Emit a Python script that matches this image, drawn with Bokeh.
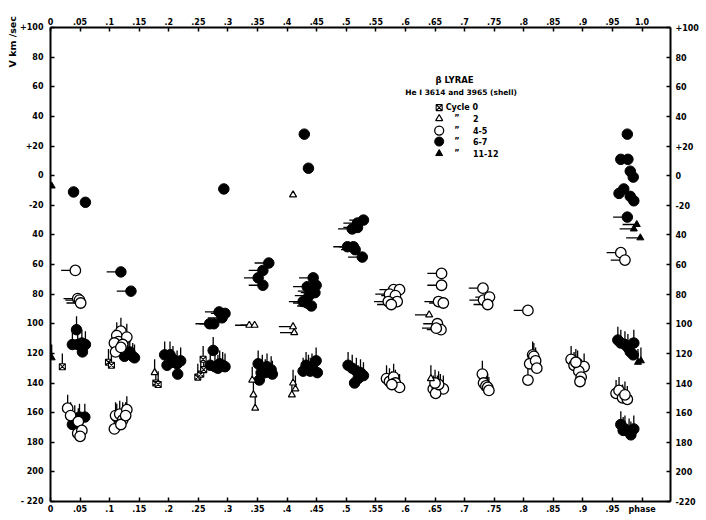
import math
from bokeh.plotting import figure
from bokeh.models import Range1d, LinearAxis, FixedTicker, Label, ColumnDataSource, Title
from bokeh.embed import file_html
from bokeh.resources import INLINE

# ---------------- data (phase, radial velocity km/s, tail direction) ----------------
# Cycle 0 (boxed x)
c0_phase = [0.020, 0.098, 0.103, 0.178, 0.182, 0.249, 0.254, 0.259, 0.258]
c0_vel = [-129, -126, -128, -140, -141, -136, -134, -131, -124]
c0_tail = ["v", "v", "v", "v", "v", "v", "v", "v", "v"]

# Cycle 2 (open triangles)
c2_phase = [0.176, 0.336, 0.345, 0.341, 0.343, 0.346, 0.410, 0.410, 0.412, 0.410, 0.414, 0.408, 0.640, 0.643]
c2_vel = [-133, -101, -101, -138, -148, -157, -13, -102, -106, -140, -144, -148, -94, -137]
c2_tail = ["v", "h", "h", "v", "v", "v", "", "h", "h", "v", "v", "v", "h", "v"]

# Cycles 4-5 (open circles)
c45_phase = [0.042, 0.046, 0.049, 0.051,
             0.029, 0.034, 0.047, 0.046, 0.053, 0.050,
             0.119, 0.112, 0.115, 0.129, 0.108, 0.122, 0.110, 0.119,
             0.108, 0.110, 0.117, 0.129, 0.122, 0.119, 0.127,
             0.580, 0.590, 0.573, 0.583, 0.586, 0.571, 0.576,
             0.568, 0.573, 0.580, 0.583, 0.590, 0.577,
             0.661, 0.661, 0.656, 0.664, 0.654, 0.660, 0.652,
             0.647, 0.654, 0.659, 0.664, 0.651, 0.656, 0.650,
             0.731, 0.732, 0.742, 0.739,
             0.730, 0.732, 0.736, 0.739, 0.741,
             0.807,
             0.815, 0.817, 0.810, 0.820, 0.822, 0.807,
             0.880, 0.885, 0.891, 0.902, 0.893, 0.897, 0.895, 0.888,
             0.964, 0.971,
             0.956, 0.961, 0.967, 0.975, 0.971]
c45_vel = [-64, -83, -84, -86,
           -157, -162, -166, -174, -172, -176,
           -105, -108, -112, -109, -113, -114, -119, -116,
           -171, -162, -161, -158, -165, -168, -162,
           -77, -77, -80, -81, -85, -85, -87,
           -137, -139, -136, -140, -143, -141,
           -66, -74, -85, -86, -100, -104, -103,
           -144, -144, -143, -144, -147, -141, -140,
           -76, -84, -82, -87,
           -134, -140, -142, -143, -145,
           -91,
           -121, -122, -127, -125, -130, -138,
           -124, -128, -127, -129, -132, -136, -139, -126,
           -52, -57,
           -147, -145, -150, -151, -148]
c45_tail = ["h", "h", "h", "h",
            "v", "v", "v", "v", "v", "v",
            "v", "v", "v", "v", "v", "v", "v", "v",
            "v", "v", "v", "v", "v", "v", "v",
            "h", "h", "h", "h", "h", "h", "h",
            "v", "v", "v", "v", "v", "v",
            "h", "h", "h", "h", "h", "h", "h",
            "v", "v", "v", "v", "v", "v", "v",
            "h", "h", "h", "h",
            "v", "v", "v", "v", "v",
            "h",
            "v", "v", "v", "v", "v", "v",
            "v", "v", "v", "v", "v", "v", "v", "v",
            "h", "h",
            "v", "v", "v", "v", "v"]

# Cycles 6-7 (filled circles)
c67_phase = [0.039, 0.059,
             0.044, 0.037, 0.046, 0.053, 0.054, 0.059,
             0.037, 0.044, 0.049, 0.058, 0.041,
             0.119, 0.136,
             0.131, 0.139, 0.142, 0.125, 0.134,
             0.112, 0.122,
             0.193, 0.202, 0.197, 0.207, 0.214, 0.220, 0.215, 0.205,
             0.269, 0.276, 0.285, 0.295, 0.290,
             0.275, 0.270, 0.278, 0.283, 0.291, 0.295, 0.286,
             0.293,
             0.369, 0.359, 0.351, 0.359,
             0.351, 0.358, 0.366, 0.373, 0.375, 0.353, 0.363, 0.356,
             0.429, 0.436,
             0.444, 0.434, 0.449, 0.442, 0.447, 0.427, 0.434, 0.441, 0.437,
             0.427, 0.432, 0.439, 0.449, 0.451, 0.442, 0.436,
             0.529, 0.519, 0.519, 0.510, 0.502, 0.512, 0.515, 0.527,
             0.503, 0.510, 0.517, 0.524, 0.529, 0.520, 0.514,
             0.975, 0.964, 0.976, 0.980, 0.985, 0.961, 0.969, 0.980, 0.986, 0.975,
             0.959, 0.964, 0.971, 0.976, 0.986, 0.980, 0.985,
             0.964, 0.971, 0.978, 0.986, 0.981, 0.968]
c67_vel = [-11, -18,
           -104, -114, -114, -113, -119, -114,
           -168, -169, -163, -163, -164,
           -65, -78,
           -120, -122, -123, -122, -119,
           -163, -162,
           -121, -121, -128, -124, -127, -125, -134, -126,
           -100, -100, -92, -93, -96,
           -118, -128, -129, -130, -128, -129, -127,
           -9,
           -59, -64, -69, -74,
           -127, -130, -129, -131, -134, -138, -133, -133,
           28, 5,
           -69, -75, -74, -78, -79, -85, -86, -88, -81,
           -132, -128, -132, -125, -133, -129, -130,
           -30, -32, -35, -36, -48, -48, -50, -55,
           -128, -130, -132, -133, -135, -137, -140,
           28, 11, 11, 3, -1, -12, -9, -14, -17, -28,
           -111, -113, -114, -116, -113, -119, -121,
           -168, -171, -173, -171, -175, -172]
c67_tail = ["", "",
            "v", "v", "v", "v", "v", "v",
            "v", "v", "v", "v", "v",
            "h", "h",
            "v", "v", "v", "v", "v",
            "v", "v",
            "v", "v", "v", "v", "v", "v", "v", "v",
            "h", "h", "h", "h", "h",
            "v", "v", "v", "v", "v", "v", "v",
            "",
            "h", "h", "h", "h",
            "v", "v", "v", "v", "v", "v", "v", "v",
            "", "",
            "h", "h", "h", "h", "h", "h", "h", "h", "h",
            "v", "v", "v", "v", "v", "v", "v",
            "h", "h", "h", "h", "h", "h", "h", "h",
            "v", "v", "v", "v", "v", "v", "v",
            "", "", "", "", "", "", "", "", "", "h",
            "v", "v", "v", "v", "v", "v", "v",
            "v", "v", "v", "v", "v", "v"]

# Cycles 11-12 (filled triangles)
c1112_phase = [0.002, 0.002, 0.991, 0.986, 0.997, 0.998, 0.993]
c1112_vel = [-7, -123, -33, -36, -42, -125, -126]
c1112_tail = ["", "v", "h", "h", "h", "v", "v"]

x_ticks = [0, 0.05, 0.1, 0.15, 0.2, 0.25, 0.3, 0.35, 0.4, 0.45, 0.5,
           0.55, 0.6, 0.65, 0.7, 0.75, 0.8, 0.85, 0.9, 0.95, 1.0]
x_top_labels = ["0", ".05", ".1", ".15", ".2", ".25", ".3", ".35", ".4", ".45", ".5",
                ".55", ".6", ".65", ".7", ".75", ".8", ".85", ".9", ".95", "1.0"]
x_bottom_labels = ["0", ".05", ".1", ".15", ".2", ".25", ".3", ".35", ".4", ".45", ".5",
                   ".55", ".6", ".65", ".7", ".75", ".8", ".85", ".9", ".95", "phase"]
y_ticks = [-220, -200, -180, -160, -140, -120, -100, -80, -60, -40, -20, 0, 20, 40, 60, 80, 100]
y_left_labels = ["- 220", "200", "180", "160", "140", "120", "100", "80", "60", "40",
                 "-20", "0", "+20", "40", "60", "80", "+100"]
y_right_labels = ["-220", "200", "180", "160", "140", "120", "100", "80", "60", "40",
                  "-20", "0", "+20", "40", "60", "80", "+100"]

# ---------------- figure ----------------
FONT = "DejaVu Sans"
p = figure(frame_width=620, frame_height=474, output_backend="svg", toolbar_location=None,
           x_range=Range1d(0, 1.048), y_range=Range1d(-220, 100),
           min_border_left=50, min_border_right=28, min_border_top=27, min_border_bottom=11)
p.grid.visible = False
p.outline_line_color = None
p.background_fill_color = "white"
p.border_fill_color = "white"

bottom_axis = p.below[0]
left_axis = p.left[0]
top_axis = LinearAxis()
right_axis = LinearAxis()
p.add_layout(top_axis, "above")
p.add_layout(right_axis, "right")


def style_axis(ax, ticks, labels, standoff):
    ax.ticker = FixedTicker(ticks=ticks)
    ax.major_label_overrides = dict(zip(ticks, labels))
    ax.axis_line_width = 2
    ax.axis_line_color = "black"
    ax.major_tick_in = 4
    ax.major_tick_out = 0
    ax.major_tick_line_width = 1.5
    ax.major_tick_line_color = "black"
    ax.minor_tick_line_color = None
    ax.major_label_text_font = FONT
    ax.major_label_text_font_style = "bold"
    ax.major_label_text_font_size = "8px"
    ax.major_label_text_color = "black"
    ax.major_label_standoff = standoff


style_axis(bottom_axis, x_ticks, x_bottom_labels, 3)
style_axis(top_axis, x_ticks, x_top_labels, 3)
style_axis(left_axis, y_ticks, y_left_labels, 7)
style_axis(right_axis, y_ticks, y_right_labels, 5)

p.add_layout(Title(text="V  km  /sec", align="right", text_font=FONT, text_font_size="9.5px",
                   text_font_style="bold", text_color="black", standoff=0, offset=-18), "left")

H_TAIL = 0.024   # phase units
V_TAIL = 9.0     # km/s


def tails(xs, ys, ts):
    x0, y0, x1, y1 = [], [], [], []
    for x, y, t in zip(xs, ys, ts):
        if t == "h":
            x0.append(x); y0.append(y); x1.append(x - H_TAIL); y1.append(y)
        elif t == "v":
            x0.append(x); y0.append(y); x1.append(x); y1.append(y + V_TAIL)
    return dict(x0=x0, y0=y0, x1=x1, y1=y1)


groups = [
    (c0_phase, c0_vel, c0_tail),
    (c2_phase, c2_vel, c2_tail),
    (c45_phase, c45_vel, c45_tail),
    (c67_phase, c67_vel, c67_tail),
    (c1112_phase, c1112_vel, c1112_tail),
]
for xs, ys, ts in groups:
    p.segment(x0="x0", y0="y0", x1="x1", y1="y1", source=ColumnDataSource(tails(xs, ys, ts)),
              line_color="black", line_width=1.3)

p.scatter(c67_phase, c67_vel, marker="circle", size=10.5, fill_color="black", line_color="black")
p.scatter(c45_phase, c45_vel, marker="circle", size=10.5, fill_color="white", line_color="black",
          line_width=1.3)
p.scatter(c0_phase, c0_vel, marker="square_x", size=6, fill_color="white", line_color="black",
          line_width=1.1)
p.scatter(c2_phase, c2_vel, marker="triangle", size=7, fill_color="white", line_color="black",
          line_width=1.2)
p.scatter(c1112_phase, c1112_vel, marker="triangle", size=7, fill_color="black", line_color="black")

# ---------------- legend / annotations ----------------
def lab(x, y, text, size="8px", align="left", style="bold"):
    p.add_layout(Label(x=x, y=y, text=text, text_font=FONT, text_font_size=size,
                       text_font_style=style, text_align=align, text_baseline="middle",
                       text_color="black"))


lab(0.683, 64.8, "\u03b2 LYRAE", size="8.5px", align="center")
lab(0.694, 56.0, "He I 3614 and 3965 (shell)", size="7.5px", align="center")

leg_x = 0.657
rows = [45.9, 38.5, 30.4, 23.0, 14.9]
p.scatter([leg_x], [rows[0]], marker="square_x", size=6, fill_color="white", line_color="black", line_width=1.1)
p.scatter([leg_x], [rows[1]], marker="triangle", size=7, fill_color="white", line_color="black", line_width=1.2)
p.scatter([leg_x], [rows[2]], marker="circle", size=9, fill_color="white", line_color="black", line_width=1.3)
p.scatter([leg_x], [rows[3]], marker="circle", size=9, fill_color="black", line_color="black")
p.scatter([leg_x], [rows[4]], marker="triangle", size=7, fill_color="black", line_color="black")

lab(0.668, rows[0], "Cycle 0", size="8px")
for r, t in zip(rows[1:], ["2", "4-5", "6-7", "11-12"]):
    lab(0.687, r, "\u201d", size="8px", align="center")
    lab(0.714, r, t, size="8px")

open("out.html", "w").write(file_html(p, INLINE))
